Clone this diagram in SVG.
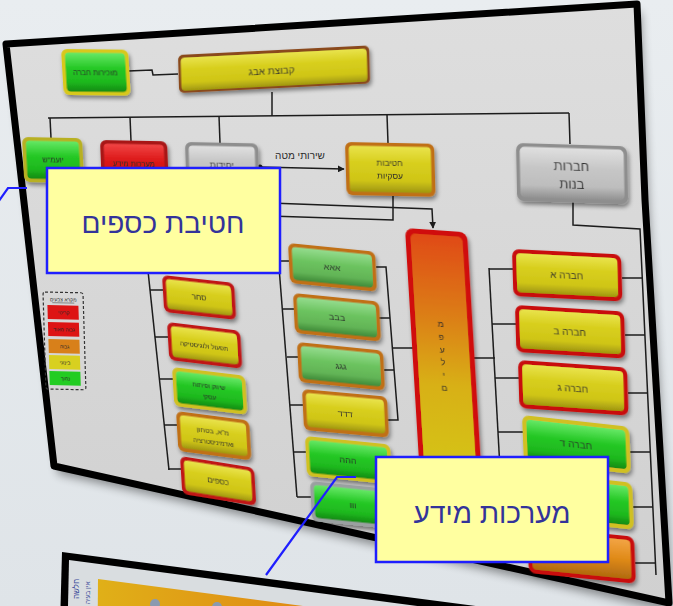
<svg xmlns="http://www.w3.org/2000/svg" width="673" height="606" viewBox="0 0 673 606">
<style>
.ln{stroke:#1c1c1c;stroke-width:1.5;fill:none}
.t{font-family:"Liberation Sans","DejaVu Sans",sans-serif;fill:#2a2a2a;text-anchor:middle}
.co{fill:#ffffa0;stroke:#1f1fff;stroke-width:2.5}
.ct{font-family:"Liberation Sans","DejaVu Sans",sans-serif;fill:#33339a;font-size:28px;text-anchor:middle}
.ptr{stroke:#1f1fff;stroke-width:2.2;fill:none}
</style>
<defs>
<linearGradient id="bg" x1="0" y1="0" x2="0" y2="1"><stop offset="0" stop-color="#e9edf0"/><stop offset="1" stop-color="#dfe4e8"/></linearGradient>
<linearGradient id="pn" x1="0" y1="0" x2="0" y2="1"><stop offset="0" stop-color="#dedede"/><stop offset="1" stop-color="#d0d0d0"/></linearGradient>
<linearGradient id="gY" x1="0" y1="0" x2="0" y2="1"><stop offset="0" stop-color="#e9e34c"/><stop offset="0.35" stop-color="#d8cf1e"/><stop offset="0.75" stop-color="#cfc516"/><stop offset="1" stop-color="#9f9610"/></linearGradient>
<linearGradient id="gG" x1="0" y1="0" x2="0" y2="1"><stop offset="0" stop-color="#66e866"/><stop offset="0.4" stop-color="#25c825"/><stop offset="0.75" stop-color="#1eb81e"/><stop offset="1" stop-color="#128a12"/></linearGradient>
<linearGradient id="gL" x1="0" y1="0" x2="0" y2="1"><stop offset="0" stop-color="#94dc8e"/><stop offset="0.4" stop-color="#6cc35f"/><stop offset="0.75" stop-color="#62b456"/><stop offset="1" stop-color="#3f8a38"/></linearGradient>
<linearGradient id="gR" x1="0" y1="0" x2="0" y2="1"><stop offset="0" stop-color="#f04444"/><stop offset="0.4" stop-color="#dd1a1a"/><stop offset="0.75" stop-color="#cc1515"/><stop offset="1" stop-color="#9a1010"/></linearGradient>
<linearGradient id="gS" x1="0" y1="0" x2="0" y2="1"><stop offset="0" stop-color="#e0e0e0"/><stop offset="0.4" stop-color="#c6c6c6"/><stop offset="0.75" stop-color="#bdbdbd"/><stop offset="1" stop-color="#909090"/></linearGradient>
<linearGradient id="gO" x1="0" y1="0" x2="0" y2="1"><stop offset="0" stop-color="#f2a444"/><stop offset="0.5" stop-color="#e08a18"/><stop offset="1" stop-color="#b06a10"/></linearGradient>
<linearGradient id="gM" x1="0" y1="0" x2="0" y2="1"><stop offset="0" stop-color="#e04a12"/><stop offset="0.3" stop-color="#dc7a14"/><stop offset="0.6" stop-color="#d8b016"/><stop offset="1" stop-color="#d4c814"/></linearGradient>
<linearGradient id="gB" x1="0" y1="0" x2="1" y2="0"><stop offset="0" stop-color="#e0b018"/><stop offset="0.35" stop-color="#e08a14"/><stop offset="0.8" stop-color="#dd2a1a"/></linearGradient>
<filter id="sh" x="-20%" y="-20%" width="150%" height="170%"><feDropShadow dx="1.5" dy="3" stdDeviation="2.2" flood-color="#000" flood-opacity="0.45"/></filter>
<filter id="bl" x="-10%" y="-10%" width="120%" height="130%"><feGaussianBlur stdDeviation="5"/></filter>
<marker id="ah" viewBox="0 0 10 10" refX="9" refY="5" markerWidth="7" markerHeight="7" orient="auto" markerUnits="userSpaceOnUse"><path d="M0,0 L10,5 L0,10 z" fill="#1c1c1c"/></marker>
</defs>

<rect width="673" height="606" fill="url(#bg)"/>

<!-- bottom second panel -->
<g id="panel2">
<polygon points="62,552 690,634 690,700 58,700" fill="#000"/>
<polygon points="69,560 690,642 690,700 66,700" fill="#d9dde0"/>
<polygon points="98,579 690,657 690,700 97,700" fill="url(#gB)"/>
<circle cx="155" cy="604" r="5" fill="#8a9ab0"/>
<circle cx="217" cy="607" r="5" fill="#8a9ab0"/>
<text transform="translate(79,599) rotate(-90)" font-family="Liberation Sans, DejaVu Sans, sans-serif" font-size="8" fill="#3a4a9a">חלשה</text>
<text transform="translate(90,604) rotate(-90)" font-family="Liberation Sans, DejaVu Sans, sans-serif" font-size="6.5" fill="#3a4a9a">אין בעיה</text>
</g>

<!-- main panel -->
<polygon points="10,52 641,12 649,208 664,458 673,612 58,474" fill="#000" opacity="0.4" filter="url(#bl)"/>
<polygon id="panel" points="6,44 637,4 645,200 660,450 669,603 54,466" fill="url(#pn)" stroke="#000" stroke-width="7" stroke-linejoin="round"/>

<g id="connectors" class="ln">
<polyline points="128,71 152,70 153,75 178,74"/>
<line x1="272" y1="92" x2="272" y2="116"/>
<line x1="48" y1="118" x2="569" y2="113"/>
<line x1="50" y1="118" x2="51" y2="138"/>
<line x1="130" y1="117" x2="131" y2="141"/>
<line x1="219" y1="116" x2="220" y2="143"/>
<line x1="387" y1="115" x2="388" y2="143"/>
<line x1="569" y1="113" x2="570" y2="144"/>
<line x1="260" y1="167" x2="344" y2="169" marker-end="url(#ah)"/>
<polyline points="393,196 393,220 142,212"/>
<polyline points="270,203 432,209 433,228" marker-end="url(#ah)"/>
<line x1="142" y1="214" x2="169" y2="470"/>
<line x1="150" y1="290" x2="163" y2="290"/>
<line x1="155" y1="337" x2="168" y2="337"/>
<line x1="159" y1="379" x2="173" y2="379"/>
<line x1="164" y1="425" x2="177" y2="425"/>
<line x1="168" y1="469" x2="182" y2="469"/>
<line x1="274" y1="203" x2="297" y2="497"/>
<line x1="279" y1="261" x2="289" y2="261"/>
<line x1="283" y1="309" x2="294" y2="309"/>
<line x1="287" y1="357" x2="298" y2="357"/>
<line x1="290" y1="405" x2="303" y2="405"/>
<line x1="294" y1="452" x2="307" y2="452"/>
<line x1="297" y1="497" x2="312" y2="497"/>
<polyline points="376,267 386,267 398,420 387,420"/>
<line x1="379" y1="318" x2="390" y2="318"/>
<line x1="384" y1="370" x2="394" y2="370"/>
<line x1="392" y1="348" x2="415" y2="348"/>
<polyline points="573,201 573,225 640,229 656,575"/>
<line x1="622" y1="278" x2="642" y2="278"/>
<line x1="625" y1="335" x2="645" y2="335"/>
<line x1="628" y1="393" x2="648" y2="393"/>
<line x1="630" y1="452" x2="650" y2="452"/>
<line x1="633" y1="507" x2="653" y2="507"/>
<line x1="635" y1="563" x2="655" y2="563"/>
<line x1="489" y1="268" x2="505" y2="560"/>
<line x1="489" y1="269" x2="513" y2="269"/>
<line x1="492" y1="324" x2="516" y2="324"/>
<line x1="495" y1="378" x2="519" y2="378"/>
<line x1="498" y1="432" x2="523" y2="432"/>
<line x1="501" y1="488" x2="526" y2="488"/>
<line x1="504" y1="543" x2="528" y2="543"/>
<line x1="474" y1="358" x2="495" y2="358"/>
<circle cx="260" cy="167" r="2.5" fill="#1c1c1c" stroke="none"/>
</g>

<text class="t" x="300" y="159" font-size="10">שירותי מטה</text>

<g id="n-mazkirut" filter="url(#sh)" transform="matrix(1,0.01,0.06,1,61,49)"><rect width="67" height="46" rx="6" fill="#d8c81c"/><rect x="3.5" y="3.5" width="60" height="39" rx="4" fill="url(#gG)"/><text class="t" x="33" y="26" font-size="7.5">מזכירות חברה</text></g>
<g id="n-kvutza" filter="url(#sh)" transform="matrix(1,-0.05,0.03,1,178,55)"><rect width="191" height="38" rx="5" fill="#8a4a1a"/><rect x="2.5" y="3" width="186" height="33" rx="4" fill="url(#gY)"/><text class="t" x="93" y="24" font-size="10">קבוצת אבג</text></g>

<g id="n-yoamash" filter="url(#sh)" transform="matrix(1,0.02,0.05,1,22,137)"><rect width="60" height="45" rx="6" fill="#b8b020"/><rect x="3.5" y="3.5" width="53" height="38" rx="4" fill="url(#gG)"/><text class="t" x="30" y="25" font-size="7.5">יועמ"ש</text></g>
<g id="n-maarachot" filter="url(#sh)" transform="matrix(1,0.02,0.04,1,100,140)"><rect width="67" height="46" rx="6" fill="#a81818"/><rect x="3.5" y="3.5" width="60" height="39" rx="4" fill="url(#gR)"/><text class="t" x="33" y="26" font-size="7.5">מערכות מידע</text></g>
<g id="n-yechidot" filter="url(#sh)" transform="matrix(1,0.02,0.03,1,185,142)"><rect width="73" height="45" rx="6" fill="#8e8e8e"/><rect x="3.5" y="3.5" width="66" height="38" rx="4" fill="url(#gS)"/><text class="t" x="36" y="25" font-size="9">יחידות</text></g>
<g id="n-chativot" filter="url(#sh)" transform="matrix(1,0.02,0.03,1,345,142)"><rect width="89" height="53" rx="6" fill="#c07018"/><rect x="3.5" y="3.5" width="82" height="46" rx="4" fill="url(#gY)"/><text class="t" x="44" y="23" font-size="8.5">חטיבות</text><text class="t" x="44" y="36" font-size="8.5">עסקיות</text></g>
<g id="n-chevrot" filter="url(#sh)" transform="matrix(1,0.03,0.02,1,516,143)"><rect width="111" height="58" rx="7" fill="#8e8e8e"/><rect x="3.5" y="3.5" width="104" height="51" rx="5" fill="url(#gS)"/><text class="t" x="55" y="26" font-size="13">חברות</text><text class="t" x="55" y="44" font-size="13">בנות</text></g>

<g id="n-sachar" filter="url(#sh)" transform="matrix(1,0.11,0.06,1,162,275)"><rect width="72" height="37" rx="6" fill="#c01414"/><rect x="3.5" y="3.5" width="65" height="30" rx="4" fill="url(#gY)"/><text class="t" x="36" y="21" font-size="8">סחר</text></g>
<g id="n-tiful" filter="url(#sh)" transform="matrix(1,0.12,0.06,1,167,322)"><rect width="73" height="38" rx="6" fill="#c01414"/><rect x="3.5" y="3.5" width="66" height="31" rx="4" fill="url(#gY)"/><text class="t" x="36" y="22" font-size="6.5">תפעול ולוגיסטיקה</text></g>
<g id="n-shivuk" filter="url(#sh)" transform="matrix(1,0.12,0.06,1,172,367)"><rect width="73" height="39" rx="6" fill="#d0c020"/><rect x="3.5" y="3.5" width="66" height="32" rx="4" fill="url(#gG)"/><text class="t" x="36" y="17" font-size="6.5">שיווק ופיתוח</text><text class="t" x="36" y="28" font-size="6.5">עסקי</text></g>
<g id="n-maa" filter="url(#sh)" transform="matrix(1,0.13,0.06,1,176,411)"><rect width="73" height="40" rx="6" fill="#c07018"/><rect x="3.5" y="3.5" width="66" height="33" rx="4" fill="url(#gY)"/><text class="t" x="36" y="18" font-size="7">מ"א, בטחון</text><text class="t" x="36" y="29" font-size="6.5">ואדמיניסטרציה</text></g>
<g id="n-ksafim" filter="url(#sh)" transform="matrix(1,0.16,0.06,1,180,456)"><rect width="74" height="38" rx="6" fill="#c01414"/><rect x="3.5" y="3.5" width="67" height="31" rx="4" fill="url(#gY)"/><text class="t" x="37" y="22" font-size="8">כספים</text></g>

<g id="n-aaa" filter="url(#sh)" transform="matrix(1,0.1,0.05,1,288,243)"><rect width="87" height="40" rx="6" fill="#c07018"/><rect x="3.5" y="3.5" width="80" height="33" rx="4" fill="url(#gL)"/><text class="t" x="43" y="23" font-size="9">אאא</text></g>
<g id="n-bbb" filter="url(#sh)" transform="matrix(1,0.1,0.05,1,293,293)"><rect width="86" height="40" rx="6" fill="#c07018"/><rect x="3.5" y="3.5" width="79" height="33" rx="4" fill="url(#gL)"/><text class="t" x="43" y="23" font-size="9">בבב</text></g>
<g id="n-ggg" filter="url(#sh)" transform="matrix(1,0.1,0.05,1,297,342)"><rect width="86" height="40" rx="6" fill="#c07018"/><rect x="3.5" y="3.5" width="79" height="33" rx="4" fill="url(#gL)"/><text class="t" x="43" y="23" font-size="9">גגג</text></g>
<g id="n-ddd" filter="url(#sh)" transform="matrix(1,0.09,0.05,1,302,389)"><rect width="85" height="41" rx="6" fill="#c07018"/><rect x="3.5" y="3.5" width="78" height="34" rx="4" fill="url(#gY)"/><text class="t" x="42" y="24" font-size="9">דדד</text></g>
<g id="n-hhh" filter="url(#sh)" transform="matrix(1,0.1,0.05,1,305,436)"><rect width="85" height="40" rx="6" fill="#d0c020"/><rect x="3.5" y="3.5" width="78" height="33" rx="4" fill="url(#gG)"/><text class="t" x="42" y="23" font-size="9">ההה</text></g>
<g id="n-vvv" filter="url(#sh)" transform="matrix(1,0.1,0.05,1,310,481)"><rect width="85" height="40" rx="6" fill="#9aa0a0"/><rect x="3.5" y="3.5" width="78" height="33" rx="4" fill="url(#gG)"/><text class="t" x="42" y="23" font-size="9">ווו</text></g>

<g id="n-mifalim" filter="url(#sh)" transform="matrix(1,0.07,0.06,1,405,228)"><rect width="62" height="260" rx="8" fill="#d01010"/><rect x="5" y="5" width="52" height="250" rx="5" fill="url(#gM)"/>
<text class="t" x="30" y="97" font-size="9">מ</text><text class="t" x="30" y="110" font-size="9">פ</text><text class="t" x="30" y="123" font-size="9">ע</text><text class="t" x="30" y="135" font-size="9">ל</text><text class="t" x="30" y="148" font-size="9">י</text><text class="t" x="30" y="161" font-size="9">ם</text></g>

<g id="n-a" filter="url(#sh)" transform="matrix(1,0.05,0.03,1,512,249)"><rect width="109" height="47" rx="7" fill="#c81010"/><rect x="4" y="4" width="101" height="39" rx="4" fill="url(#gY)"/><text class="t" x="54" y="27" font-size="10">חברה א</text></g>
<g id="n-b" filter="url(#sh)" transform="matrix(1,0.06,0.03,1,515,305)"><rect width="109" height="47" rx="7" fill="#c81010"/><rect x="4" y="4" width="101" height="39" rx="4" fill="url(#gY)"/><text class="t" x="54" y="27" font-size="10">חברה ב</text></g>
<g id="n-g" filter="url(#sh)" transform="matrix(1,0.07,0.03,1,518,360)"><rect width="109" height="48" rx="7" fill="#c81010"/><rect x="4" y="4" width="101" height="40" rx="4" fill="url(#gY)"/><text class="t" x="54" y="28" font-size="10">חברה ג</text></g>
<g id="n-d" filter="url(#sh)" transform="matrix(1,0.11,0.04,1,522,415)"><rect width="107" height="47" rx="7" fill="#d0c020"/><rect x="4" y="4" width="99" height="39" rx="4" fill="url(#gG)"/><text class="t" x="53" y="27" font-size="10">חברה ד</text></g>
<g id="n-e" filter="url(#sh)" transform="matrix(1,0.11,0.04,1,525,471)"><rect width="107" height="47" rx="7" fill="#d0c020"/><rect x="4" y="4" width="99" height="39" rx="4" fill="url(#gG)"/></g>
<g id="n-f" filter="url(#sh)" transform="matrix(1,0.1,0.04,1,527,526)"><rect width="107" height="47" rx="7" fill="#c81010"/><rect x="4" y="4" width="99" height="39" rx="4" fill="url(#gO)"/></g>

<g id="legend" transform="matrix(1,0.02,0.03,1,43,292)">
<rect x="0" y="0" width="40" height="97" rx="2" fill="none" stroke="#333" stroke-width="1.2" stroke-dasharray="3,2"/>
<text class="t" x="20" y="9" font-size="5">מקרא צבעים</text>
<line x1="9" y1="10.5" x2="31" y2="10.5" stroke="#333" stroke-width="0.5"/>
<rect x="4" y="13" width="31" height="14" fill="#dd1414"/><text class="t" x="20" y="22" font-size="5">קריטי</text>
<rect x="4" y="30" width="31" height="14" fill="#dd1414"/><text class="t" x="20" y="39" font-size="5">גבוה מאוד</text>
<rect x="4" y="47" width="31" height="14" fill="#d8801a"/><text class="t" x="20" y="56" font-size="5">גבוה</text>
<rect x="4" y="63" width="31" height="14" fill="#d8d020"/><text class="t" x="20" y="72" font-size="5">בינוני</text>
<rect x="4" y="79" width="31" height="14" fill="#22cc22"/><text class="t" x="20" y="88" font-size="5">נמוך</text>
</g>

<g id="callout-ksafim">
<polyline class="ptr" points="27,188 8,188 -4,205"/>
<rect class="co" x="47" y="168" width="233" height="105"/>
<text class="ct" x="163" y="233">חטיבת כספים</text>
</g>
<g id="callout-meida">
<polyline class="ptr" points="356,477 337,477 266,575"/>
<rect class="co" x="376" y="457" width="232" height="105"/>
<text class="ct" x="492" y="523">מערכות מידע</text>
</g>
</svg>
